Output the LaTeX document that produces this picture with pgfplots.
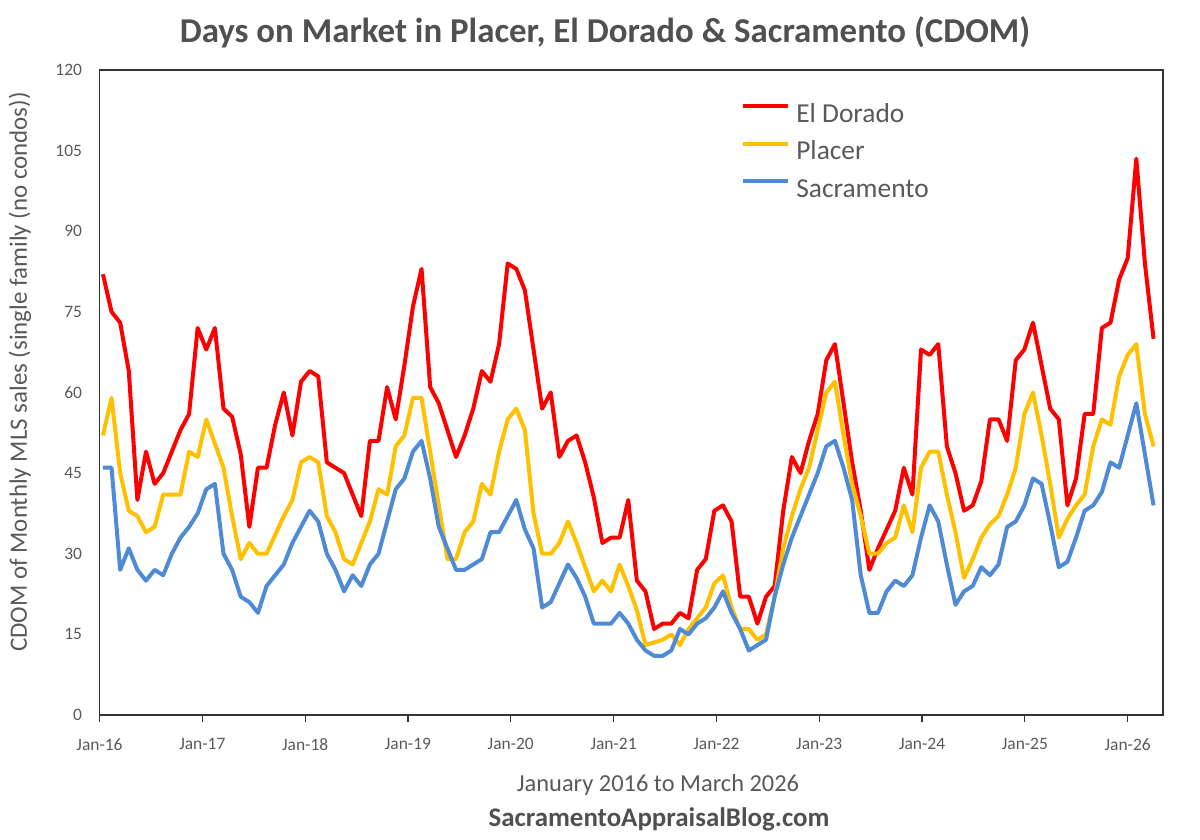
\documentclass[border=0pt]{standalone}
\usepackage{pgfplots}
\usepackage{pgfplotstable}
\pgfplotsset{compat=1.18}
\usepackage{fontspec}
\setmainfont{Carlito}
\definecolor{cRed}{HTML}{FF0000}
\definecolor{cYel}{HTML}{FFC000}
\definecolor{cBlu}{HTML}{4F8AD6}
\definecolor{txtgray}{HTML}{595959}
\definecolor{ttlgray}{HTML}{505050}

\pgfplotstableread{
m eld pla sac
0 82 52 46
1 75 59 46
2 73 45 27
3 64 38 31
4 40 37 27
5 49 34 25
6 43 35 27
7 45 41 26
8 49 41 30
9 53 41 33
10 56 49 35
11 72 48 37.5
12 68 55 42
13 72 50.5 43
14 57 46 30
15 55.5 37 27
16 48.5 29 22
17 35 32 21
18 46 30 19
19 46 30 24
20 54 33.5 26
21 60 37 28
22 52 40 32
23 62 47 35
24 64 48 38
25 63 47 36
26 47 37 30
27 46 34 27
28 45 29 23
29 41 28 26
30 37 32 24
31 51 36 28
32 51 42 30
33 61 41 36
34 55 50 42
35 65 52 44
36 76 59 49
37 83 59 51
38 61 49 44
39 58 39 35
40 53 29 31
41 48 29 27
42 52 34 27
43 57 36 28
44 64 43 29
45 62 41 34
46 69 49 34
47 84 55 37
48 83 57 40
49 79 53 34.5
50 68 37.5 31
51 57 30 20
52 60 30 21
53 48 32 24.5
54 51 36 28
55 52 32 25.5
56 47 27.5 22
57 40.5 23 17
58 32 25 17
59 33 23 17
60 33 28 19
61 40 24 17
62 25 19.5 14
63 23 13 12
64 16 13.5 11
65 17 14 11
66 17 15 12
67 19 13 16
68 18 16 15
69 27 18 17
70 29 20 18
71 38 24.5 20
72 39 26 23
73 36 20 19
74 22 16 16
75 22 16 12
76 17 14 13
77 22 15 14
78 24 22 22
79 38 31 28
80 48 37 33
81 45 42 37
82 51 46 41
83 56 53 45
84 66 60 50
85 69 62 51
86 58 52 46
87 47 43 40
88 38 37 26
89 27 30 19
90 31 30 19
91 34.5 32 23
92 38 33 25
93 46 39 24
94 41 34 26
95 68 46 33
96 67 49 39
97 69 49 36
98 50 41 28
99 45 34 20.5
100 38 25.5 23
101 39 29 24
102 43.5 33 27.5
103 55 35.5 26
104 55 37 28
105 51 41 35
106 66 46 36
107 68 56 39
108 73 60 44
109 65 52 43
110 57 43 35.5
111 55 33 27.5
112 39 36.5 28.5
113 44 39 33
114 56 41 38
115 56 50 39
116 72 55 41.5
117 73 54 47
118 81 63 46
119 85 67 52
120 103.5 69 58
121 84 56 48.5
122 70 50 39
}\datatable

\begin{document}
\begin{tikzpicture}
\path[use as bounding box] (0,0) rectangle (1200bp,840bp);
\begin{axis}[
  at={(99.5bp,125bp)}, anchor=south west,
  scale only axis, width=1063.5bp, height=645bp,
  xmin=-0.4, xmax=123.1, ymin=0, ymax=120,
  xtick={-0.4,11.54,23.48,35.42,47.36,59.3,71.24,83.18,95.12,107.06,119.0},
  xticklabels={Jan-16,Jan-17,Jan-18,Jan-19,Jan-20,Jan-21,Jan-22,Jan-23,Jan-24,Jan-25,Jan-26},
  ytick={0,15,...,120},
  axis line style={draw=black!80, line width=1.2bp},
  tick align=outside, xtick pos=bottom, ytick pos=left,
  x tick style={draw=black!80, line width=1.2bp}, major tick length=7bp,
  y tick style={draw=none},
  /pgf/number format/assume math mode=true,
  ticklabel style={font=\fontsize{17.5}{20}\selectfont, text=txtgray},
  xticklabel style={yshift=-13bp},
  yticklabel style={xshift=-7bp},
  legend style={at={(0.6005,0.953)}, anchor=north west, draw=none, fill=none,
    font=\fontsize{27.5}{32}\selectfont, text=txtgray,
    nodes={inner sep=0pt, text height=20bp, text depth=6bp},
    /tikz/row sep=11.5bp, /tikz/column sep=6bp},
  legend cell align=left,
  legend image code/.code={\draw[#1] (0bp,9bp) -- (45bp,9bp);},
]
\addplot[cRed, line width=4bp, line join=round] table[x=m,y=eld] {\datatable};
\addlegendentry{El Dorado}
\addplot[cYel, line width=4bp, line join=round] table[x=m,y=pla] {\datatable};
\addlegendentry{Placer}
\addplot[cBlu, line width=4bp, line join=round] table[x=m,y=sac] {\datatable};
\addlegendentry{Sacramento}
\end{axis}
\node[anchor=base, font=\fontsize{35}{42}\selectfont\bfseries, text=ttlgray] at (605bp,797bp) {Days on Market in Placer, El Dorado \& Sacramento (CDOM)};
\node[anchor=base, font=\fontsize{24.5}{29}\selectfont, text=txtgray] at (658bp,48bp) {January 2016 to March 2026};
\node[anchor=base, font=\fontsize{27}{32}\selectfont\bfseries, text=ttlgray] at (659bp,14bp) {SacramentoAppraisalBlog.com};
\node[rotate=90, font=\fontsize{25}{30}\selectfont, text=txtgray] at (20bp,468bp) {CDOM of Monthly MLS sales (single family (no condos))};
\end{tikzpicture}
\end{document}
